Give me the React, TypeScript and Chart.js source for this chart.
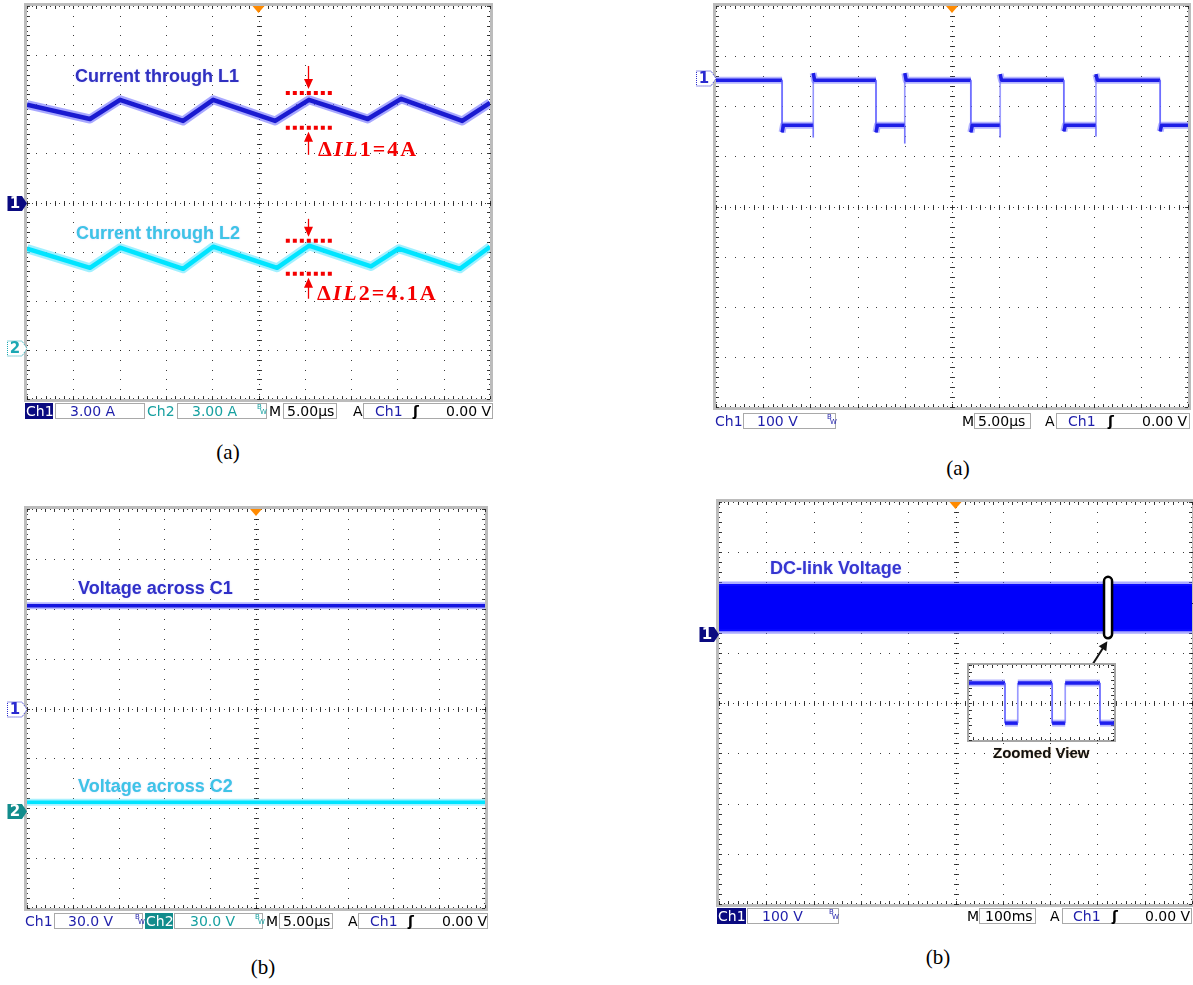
import React, { useEffect, useRef } from 'react';
import { Chart, registerables } from 'chart.js';

Chart.register(...registerables);

// Every trace value is in screen divisions: x 0..10, y -4..+4 (centre = 0).

// (a) left: inductor currents, 3.00 A/div, 5.00 µs/div
const iL1X = [0, 1.36, 2.01, 3.37, 4.02, 5.36, 6.09, 7.36, 8.08, 9.40, 10];
const iL1Y = [1.99, 1.70, 2.09, 1.66, 2.09, 1.66, 2.09, 1.70, 2.11, 1.66, 2.03];
const iL2X = [0, 1.36, 2.01, 3.37, 4.02, 5.40, 6.09, 7.43, 8.03, 9.35, 10];
const iL2Y = [-0.94, -1.33, -0.92, -1.35, -0.90, -1.33, -0.88, -1.30, -0.94, -1.35, -0.90];
const groundsCurrent = [0, -2.97];
const rippleSpanX = [5.59, 6.61];
const rippleArrowX = 6.07;
const rippleL1 = [2.23, 1.52];
const rippleL2 = [-0.78, -1.45];

// (a) right: switch voltage, 100 V/div, 5.00 µs/div
const vSwX = [0, 1.40, 1.40, 1.43, 2.06, 2.06, 2.06, 2.09, 3.39, 3.39, 3.42, 4.00, 4.00, 4.00, 4.03,
  5.40, 5.40, 5.43, 6.02, 6.02, 6.02, 6.05, 7.37, 7.37, 7.40, 8.05, 8.05, 8.05, 8.08, 9.41, 9.41, 9.44, 10];
const vSwY = [2.52, 2.52, 1.48, 1.62, 1.62, 1.38, 2.66, 2.52, 2.52, 1.48, 1.62, 1.62, 1.26, 2.66, 2.52,
  2.52, 1.48, 1.62, 1.62, 1.38, 2.64, 2.52, 2.52, 1.50, 1.62, 1.62, 1.40, 2.64, 2.52, 2.52, 1.50, 1.62, 1.62];
const groundSw = 2.56;

// (b) left: capacitor voltages, 30.0 V/div
const vC1X = [0, 10];
const vC1Y = [2.06, 2.06];
const vC2X = [0, 10];
const vC2Y = [-1.88, -1.88];
const groundsCap = [0, -2.06];

// (b) right: DC-link voltage envelope, 100 V/div, 100 ms/div
const vDcX = [0, 10];
const vDcMax = [2.35, 2.35];
const vDcMin = [1.45, 1.45];
const groundDc = 1.37;
const zoomWinX = [8.14, 8.31];
const zoomWinY = [1.29, 2.51];
const zoomArrowX = [7.89, 8.21];
const zoomArrowY = [0.756, 1.23];

// zoomed-view inset: 3 divisions wide, -1..1 tall
const zvX = [0, 0.745, 0.745, 1.01, 1.01, 1.72, 1.72, 1.99, 1.99, 2.71, 2.71, 3.0];
const zvY = [0.52, 0.52, -0.55, -0.55, 0.52, 0.52, -0.55, -0.55, 0.52, 0.52, -0.55, -0.55];

const C_BLUE = '#1e1eaa';
const C_TEAL = '#17a0a0';
const C_NAVY = '#0a0a80';
const C_TEALBG = '#128c8c';
const INK = 'rgba(25,25,25,0.85)';

type Pt = { x: number; y: number };
const pts = (xs: number[], ys: number[]): Pt[] => xs.map((x, i) => ({ x, y: ys[i] }));

const isVertical = (c: any) => Math.abs(c.p0.parsed.x - c.p1.parsed.x) < 1e-6;

// core stroke on top (order 1), soft halo underneath (order 2)
function trace(xs: number[], ys: number[], core: string, haze: string, w: number, hw: number, thinEdges = false): any[] {
  const data = pts(xs, ys);
  const base = { data, pointRadius: 0, tension: 0, fill: false, borderJoinStyle: 'round', borderCapStyle: 'butt' };
  return [
    { ...base, order: 1, borderColor: core, borderWidth: w,
      segment: thinEdges ? { borderWidth: (c: any) => (isVertical(c) ? 1 : undefined), borderColor: (c: any) => (isVertical(c) ? 'rgba(95,95,255,0.75)' : undefined) } : undefined },
    { ...base, order: 2, borderColor: haze, borderWidth: hw,
      segment: thinEdges ? { borderWidth: (c: any) => (isVertical(c) ? 2 : undefined), borderColor: (c: any) => (isVertical(c) ? 'rgba(150,150,255,0.35)' : undefined) } : undefined },
  ];
}

type GridSpec = {
  vLines: number[]; hLines: number[]; vAxis: number | null; hAxis: number | null;
  xStep: number; yStep: number; xOrigin: number; yOrigin: number; frame: string; frameWidth: number;
};

function steps(min: number, max: number, origin: number, step: number): number[] {
  const out: number[] = [];
  const k0 = Math.ceil((min - origin) / step - 1e-6);
  const k1 = Math.floor((max - origin) / step + 1e-6);
  for (let k = k0; k <= k1; k++) out.push(origin + k * step);
  return out;
}

function drawGrid(chart: any, g: GridSpec) {
  const ctx: CanvasRenderingContext2D = chart.ctx;
  const sx = chart.scales.x, sy = chart.scales.y;
  const px = (v: number) => Math.round(sx.getPixelForValue(v));
  const py = (v: number) => Math.round(sy.getPixelForValue(v));
  const L = px(sx.min), R = px(sx.max), T = py(sy.max), B = py(sy.min);
  ctx.save();
  ctx.fillStyle = '#ffffff';
  ctx.fillRect(L, T, R - L, B - T);
  const fw = g.frameWidth;
  ctx.strokeStyle = g.frame;
  ctx.lineWidth = fw;
  ctx.strokeRect(L - fw / 2, T - fw / 2, R - L + fw, B - T + fw);
  const xa = steps(sx.min, sx.max, g.xOrigin, g.xStep);
  const ya = steps(sy.min, sy.max, g.yOrigin, g.yStep);
  const xf = steps(sx.min, sx.max, g.xOrigin, g.xStep / 2);
  const yf = steps(sy.min, sy.max, g.yOrigin, g.yStep / 2);
  ctx.fillStyle = INK;
  g.vLines.forEach((v) => { const x = px(v); ya.forEach((w) => ctx.fillRect(x, py(w), 1, 1)); });
  g.hLines.forEach((v) => { const y = py(v); xa.forEach((w) => ctx.fillRect(px(w), y, 1, 1)); });
  // frame edge ticks
  xa.forEach((w) => { const x = px(w); ctx.fillRect(x, T, 1, 3); ctx.fillRect(x, B - 3, 1, 3); });
  ya.forEach((w) => { const y = py(w); ctx.fillRect(L, y, 3, 1); ctx.fillRect(R - 3, y, 3, 1); });
  xf.forEach((w) => { const x = px(w); ctx.fillRect(x, T, 1, 1); ctx.fillRect(x, B - 1, 1, 1); });
  yf.forEach((w) => { const y = py(w); ctx.fillRect(L, y, 1, 1); ctx.fillRect(R - 1, y, 1, 1); });
  // centre axes with minor ticks
  if (g.vAxis !== null) {
    const x = px(g.vAxis);
    yf.forEach((w) => ctx.fillRect(x, py(w), 1, 1));
    ya.forEach((w) => ctx.fillRect(x - 2, py(w), 5, 1));
  }
  if (g.hAxis !== null) {
    const y = py(g.hAxis);
    xf.forEach((w) => ctx.fillRect(px(w), y, 1, 1));
    xa.forEach((w) => ctx.fillRect(px(w), y - 2, 1, 5));
  }
  ctx.restore();
}

type Marker = { n: string; v: number; kind: 'navy' | 'teal' | 'blueHollow' | 'tealHollow' };

function drawMarker(chart: any, m: Marker) {
  const ctx: CanvasRenderingContext2D = chart.ctx;
  const L = Math.round(chart.scales.x.getPixelForValue(chart.scales.x.min));
  const y = Math.round(chart.scales.y.getPixelForValue(m.v)) + 0.5;
  const x0 = L - 19.5, x1 = L - 5, x2 = L, h = 7.5;
  ctx.save();
  ctx.beginPath();
  ctx.moveTo(x0, y - h); ctx.lineTo(x1, y - h); ctx.lineTo(x2, y); ctx.lineTo(x1, y + h); ctx.lineTo(x0, y + h);
  ctx.closePath();
  const filled = m.kind === 'navy' || m.kind === 'teal';
  const col = m.kind === 'navy' ? C_NAVY : m.kind === 'teal' ? C_TEALBG : m.kind === 'blueHollow' ? '#2a2ad0' : '#1aa8b4';
  if (filled) { ctx.fillStyle = col; ctx.fill(); }
  else { ctx.fillStyle = '#fff'; ctx.fill(); ctx.setLineDash([1, 1]); ctx.strokeStyle = col; ctx.lineWidth = 1; ctx.stroke(); }
  ctx.fillStyle = filled ? '#fff' : col;
  ctx.font = 'bold 15px "DejaVu Sans", sans-serif';
  ctx.textAlign = 'center';
  ctx.textBaseline = 'middle';
  ctx.fillText(m.n, x0 + 7.5, y + 1);
  ctx.restore();
}

function drawTrigger(chart: any) {
  const ctx: CanvasRenderingContext2D = chart.ctx;
  const sx = chart.scales.x, sy = chart.scales.y;
  const cx = sx.getPixelForValue((sx.min + sx.max) / 2);
  const T = sy.getPixelForValue(sy.max);
  ctx.save();
  ctx.fillStyle = '#ff8a00';
  ctx.beginPath();
  ctx.moveTo(cx - 6, T); ctx.lineTo(cx + 6, T); ctx.lineTo(cx, T + 7); ctx.closePath();
  ctx.fill();
  ctx.restore();
}

function arrow(ctx: CanvasRenderingContext2D, x1: number, y1: number, x2: number, y2: number, color: string, lw: number, head: number, hw: number) {
  const a = Math.atan2(y2 - y1, x2 - x1);
  ctx.save();
  ctx.strokeStyle = color; ctx.fillStyle = color; ctx.lineWidth = lw;
  ctx.beginPath();
  ctx.moveTo(x1, y1);
  ctx.lineTo(x2 - Math.cos(a) * head * 0.8, y2 - Math.sin(a) * head * 0.8);
  ctx.stroke();
  ctx.beginPath();
  ctx.moveTo(x2, y2);
  ctx.lineTo(x2 - Math.cos(a) * head + Math.sin(a) * hw, y2 - Math.sin(a) * head - Math.cos(a) * hw);
  ctx.lineTo(x2 - Math.cos(a) * head - Math.sin(a) * hw, y2 - Math.sin(a) * head + Math.cos(a) * hw);
  ctx.closePath();
  ctx.fill();
  ctx.restore();
}

function drawRipple(chart: any, levels: number[], upLen: number, downLen: number) {
  const ctx: CanvasRenderingContext2D = chart.ctx;
  const sx = chart.scales.x, sy = chart.scales.y;
  const xa = sx.getPixelForValue(rippleSpanX[0]), xb = sx.getPixelForValue(rippleSpanX[1]);
  const ax = Math.round(sx.getPixelForValue(rippleArrowX)) + 0.5;
  const yTop = sy.getPixelForValue(levels[0]), yBot = sy.getPixelForValue(levels[1]);
  ctx.save();
  ctx.strokeStyle = '#f40000';
  ctx.lineWidth = 4;
  ctx.setLineDash([4, 3]);
  [yTop, yBot].forEach((y) => { ctx.beginPath(); ctx.moveTo(xa, y); ctx.lineTo(xb, y); ctx.stroke(); });
  ctx.restore();
  arrow(ctx, ax, yTop - downLen, ax, yTop - 4, '#f40000', 1.3, 10, 4.5);
  arrow(ctx, ax, yBot + upLen, ax, yBot + 4, '#f40000', 1.3, 10, 4.5);
}

function drawZoomWindow(chart: any) {
  const ctx: CanvasRenderingContext2D = chart.ctx;
  const sx = chart.scales.x, sy = chart.scales.y;
  const x0 = sx.getPixelForValue(zoomWinX[0]), x1 = sx.getPixelForValue(zoomWinX[1]);
  const y0 = sy.getPixelForValue(zoomWinY[1]), y1 = sy.getPixelForValue(zoomWinY[0]);
  const r = (x1 - x0) / 2;
  ctx.save();
  ctx.beginPath();
  ctx.moveTo(x0, y0 + r);
  ctx.arc(x0 + r, y0 + r, r, Math.PI, 0);
  ctx.lineTo(x1, y1 - r);
  ctx.arc(x0 + r, y1 - r, r, 0, Math.PI);
  ctx.closePath();
  ctx.fillStyle = '#fff';
  ctx.fill();
  ctx.strokeStyle = '#000';
  ctx.lineWidth = 2.5;
  ctx.stroke();
  ctx.restore();
  arrow(ctx, sx.getPixelForValue(zoomArrowX[0]), sy.getPixelForValue(zoomArrowY[0]),
    sx.getPixelForValue(zoomArrowX[1]), sy.getPixelForValue(zoomArrowY[1]), '#111', 2, 9, 4.5);
}

type Box = { l: number; t: number; r: number; b: number };
type ScopeProps = {
  box: Box; pad: { l: number; t: number; r: number; b: number };
  datasets: any[]; grid: GridSpec; markers: Marker[]; trigger: boolean;
  xRange: [number, number]; yRange: [number, number]; extra?: (c: any) => void;
};

function Scope({ box, pad, datasets, grid, markers, trigger, xRange, yRange, extra }: ScopeProps) {
  const ref = useRef<HTMLCanvasElement>(null);
  useEffect(() => {
    const canvas = ref.current;
    if (!canvas) return;
    const chart = new Chart(canvas, {
      type: 'line',
      data: { datasets },
      options: {
        responsive: false,
        animation: false,
        events: [],
        layout: { padding: { left: pad.l, top: pad.t, right: pad.r, bottom: pad.b } },
        plugins: { legend: { display: false }, tooltip: { enabled: false } },
        scales: {
          x: { type: 'linear', min: xRange[0], max: xRange[1], display: false },
          y: { type: 'linear', min: yRange[0], max: yRange[1], display: false },
        },
      },
      plugins: [
        { id: 'graticule', beforeDatasetsDraw: (c: any) => drawGrid(c, grid) },
        {
          id: 'scopeOverlay',
          afterDatasetsDraw: (c: any) => {
            if (extra) extra(c);
            markers.forEach((m) => drawMarker(c, m));
            if (trigger) drawTrigger(c);
          },
        },
      ],
    } as any);
    return () => chart.destroy();
  }, []);
  const w = box.r - box.l + pad.l + pad.r;
  const h = box.b - box.t + pad.t + pad.b;
  return (
    <canvas ref={ref} width={w} height={h}
      style={{ position: 'absolute', left: box.l - pad.l, top: box.t - pad.t, width: w, height: h }} />
  );
}

const mainGrid: GridSpec = {
  vLines: [1, 2, 3, 4, 6, 7, 8, 9], hLines: [-3, -2, -1, 1, 2, 3], vAxis: 5, hAxis: 0,
  xStep: 0.2, yStep: 0.2, xOrigin: 0, yOrigin: 0, frame: '#bcbcbc', frameWidth: 3,
};
const insetGrid: GridSpec = {
  vLines: [0.68, 1.68, 2.65], hLines: [], vAxis: null, hAxis: 0,
  xStep: 0.2, yStep: 0.2, xOrigin: 0.68, yOrigin: 0, frame: '#a6a6a6', frameWidth: 2,
};
const PAD = { l: 22, t: 8, r: 6, b: 8 };

type Bar = { y: number; hls: [number, number, string][]; boxes: [number, number][]; texts: [number, string, string][]; bw: [number, string][] };

const barA1: Bar = {
  y: 403, hls: [[25, 28, C_NAVY]], boxes: [[55, 90], [177, 90], [283, 54], [363, 130]],
  texts: [[26, 'Ch1', '#fff'], [70, '3.00 A', C_BLUE], [147, 'Ch2', C_TEAL], [192, '3.00 A', C_TEAL], [269, 'M', '#000'],
    [287, '5.00µs', '#000'], [353, 'A', '#000'], [375, 'Ch1', C_BLUE], [413, 'ʃ', '#000'], [446, '0.00 V', '#000']],
  bw: [[257, C_TEAL]],
};
const barA2: Bar = {
  y: 413, hls: [], boxes: [[743, 93], [974, 57], [1056, 134]],
  texts: [[715, 'Ch1', C_BLUE], [757, '100 V', C_BLUE], [962, 'M', '#000'], [978, '5.00µs', '#000'], [1045, 'A', '#000'],
    [1068, 'Ch1', C_BLUE], [1108, 'ʃ', '#000'], [1142, '0.00 V', '#000']],
  bw: [[827, C_BLUE]],
};
const barB1: Bar = {
  y: 913, hls: [[145, 28, C_TEALBG]], boxes: [[54, 89], [174, 89], [279, 54], [358, 130]],
  texts: [[25, 'Ch1', C_BLUE], [68, '30.0 V', C_BLUE], [146, 'Ch2', '#fff'], [190, '30.0 V', C_TEAL], [266, 'M', '#000'],
    [283, '5.00µs', '#000'], [348, 'A', '#000'], [370, 'Ch1', C_BLUE], [408, 'ʃ', '#000'], [442, '0.00 V', '#000']],
  bw: [[135, C_BLUE], [255, C_TEAL]],
};
const barB2: Bar = {
  y: 908, hls: [[717, 29, C_NAVY]], boxes: [[747, 92], [979, 57], [1062, 130]],
  texts: [[718, 'Ch1', '#fff'], [762, '100 V', C_BLUE], [967, 'M', '#000'], [985, '100ms', '#000'], [1050, 'A', '#000'],
    [1073, 'Ch1', C_BLUE], [1112, 'ʃ', '#000'], [1145, '0.00 V', '#000']],
  bw: [[829, C_BLUE]],
};

const abs = (x: number, y: number): React.CSSProperties => ({ position: 'absolute', left: x, top: y, whiteSpace: 'nowrap' });

function StatusBar({ bar }: { bar: Bar }) {
  return (
    <>
      {bar.hls.map(([x, w, bg], i) => (
        <div key={'h' + i} style={{ ...abs(x, bar.y), width: w, height: 16, background: bg }} />
      ))}
      {bar.boxes.map(([x, w], i) => (
        <div key={'b' + i} style={{ ...abs(x, bar.y), width: w, height: 16, boxSizing: 'border-box', border: '1px solid #a9a9a9', background: '#fff' }} />
      ))}
      {bar.texts.map(([x, t, c], i) => (
        <div key={'t' + i} style={{ ...abs(x, bar.y), height: 16, fontFamily: '"DejaVu Sans", Verdana, sans-serif', fontSize: 14, lineHeight: '16px', color: c, fontWeight: t === 'ʃ' ? 'bold' : 'normal' }}>{t}</div>
      ))}
      {bar.bw.map(([x, c], i) => (
        <React.Fragment key={'w' + i}>
          <div style={{ ...abs(x, bar.y + 1), fontFamily: '"DejaVu Sans", sans-serif', fontSize: 7, lineHeight: '7px', color: c }}>B</div>
          <div style={{ ...abs(x + 3, bar.y + 6), fontFamily: '"DejaVu Sans", sans-serif', fontSize: 7, lineHeight: '7px', color: c }}>W</div>
        </React.Fragment>
      ))}
    </>
  );
}

function Label({ x, y, text, color, size = 18 }: { x: number; y: number; text: string; color: string; size?: number }) {
  return (
    <div style={{ ...abs(x, y), fontFamily: '"Liberation Sans", Arial, sans-serif', fontWeight: 'bold', fontSize: size, lineHeight: `${size}px`, color, textShadow: '0 0 1.5px rgba(120,120,255,0.35)' }}>{text}</div>
  );
}

function Caption({ cx, y, text }: { cx: number; y: number; text: string }) {
  return (
    <div style={{ ...abs(cx - 30, y), width: 60, textAlign: 'center', fontFamily: '"Liberation Serif", "Times New Roman", serif', fontSize: 21, lineHeight: '21px', color: '#000' }}>{text}</div>
  );
}

function Ripple({ x, y, idx, val }: { x: number; y: number; idx: string; val: string }) {
  return (
    <div style={{ ...abs(x, y), fontFamily: '"Liberation Serif", "Times New Roman", serif', fontWeight: 'bold', fontSize: 22, lineHeight: '22px', color: '#f40000', letterSpacing: 2 }}>
      Δ<i>IL</i>{idx}={val}
    </div>
  );
}

export default function App() {
  const dsCurrent = [
    ...trace(iL1X, iL1Y, '#1a1ad0', 'rgba(110,110,255,0.6)', 4.5, 9),
    ...trace(iL2X, iL2Y, '#00e4ff', 'rgba(110,232,255,0.65)', 4.5, 9),
  ];
  const dsSwitch = trace(vSwX, vSwY, '#1e1ee6', 'rgba(110,110,255,0.5)', 3.5, 7, true);
  const dsCap = [
    ...trace(vC1X, vC1Y, '#1414e0', 'rgba(110,110,255,0.5)', 3.5, 7),
    ...trace(vC2X, vC2Y, '#00e4ff', 'rgba(110,232,255,0.6)', 3.5, 7),
  ];
  const dsDc = [
    { data: pts(vDcX, vDcMax), order: 1, borderColor: '#0a0aff', borderWidth: 2, pointRadius: 0, fill: false },
    { data: pts(vDcX, vDcMin), order: 1, borderColor: '#0a0aff', borderWidth: 2, pointRadius: 0, fill: '-1', backgroundColor: '#0000fa' },
    { data: pts(vDcX, vDcMax), order: 2, borderColor: 'rgba(90,90,255,0.5)', borderWidth: 7, pointRadius: 0, fill: false },
    { data: pts(vDcX, vDcMin), order: 2, borderColor: 'rgba(90,90,255,0.5)', borderWidth: 7, pointRadius: 0, fill: false },
  ];
  const dsZoom = trace(zvX, zvY, '#1e1eee', 'rgba(110,110,255,0.5)', 3.5, 7, true);

  return (
    <div style={{ position: 'absolute', left: 0, top: 0, width: 1193, height: 985, overflow: 'hidden', background: '#fff' }}>
      <Scope box={{ l: 27, t: 6, r: 490, b: 399 }} pad={PAD} datasets={dsCurrent} grid={mainGrid} trigger
        xRange={[0, 10]} yRange={[-4, 4]}
        markers={[{ n: '1', v: groundsCurrent[0], kind: 'navy' }, { n: '2', v: groundsCurrent[1], kind: 'tealHollow' }]}
        extra={(c) => { drawRipple(c, rippleL1, 27, 27); drawRipple(c, rippleL2, 25, 22); }} />
      <Scope box={{ l: 716, t: 6, r: 1188, b: 407 }} pad={PAD} datasets={dsSwitch} grid={mainGrid} trigger
        xRange={[0, 10]} yRange={[-4, 4]}
        markers={[{ n: '1', v: groundSw, kind: 'blueHollow' }]} />
      <Scope box={{ l: 27, t: 509, r: 485, b: 908 }} pad={PAD} datasets={dsCap} grid={mainGrid} trigger
        xRange={[0, 10]} yRange={[-4, 4]}
        markers={[{ n: '1', v: groundsCap[0], kind: 'blueHollow' }, { n: '2', v: groundsCap[1], kind: 'teal' }]} />
      <Scope box={{ l: 719, t: 502, r: 1192, b: 904 }} pad={PAD} datasets={dsDc} grid={mainGrid} trigger
        xRange={[0, 10]} yRange={[-4, 4]}
        markers={[{ n: '1', v: groundDc, kind: 'navy' }]} extra={drawZoomWindow} />
      <Scope box={{ l: 969, t: 665, r: 1114, b: 740 }} pad={{ l: 3, t: 3, r: 3, b: 3 }} datasets={dsZoom} grid={insetGrid}
        trigger={false} xRange={[0, 3]} yRange={[-1, 1]} markers={[]} />

      <Label x={75} y={67} text="Current through L1" color="#3030c0" />
      <Label x={76} y={224} text="Current through L2" color="#3ec4e6" />
      <Label x={78} y={579} text="Voltage across C1" color="#3030c8" />
      <Label x={78} y={777} text="Voltage across C2" color="#3ec4e6" />
      <Label x={770} y={559} text="DC-link Voltage" color="#3636d0" />
      <div style={{ ...abs(993, 745), fontFamily: '"Liberation Sans", Arial, sans-serif', fontWeight: 'bold', fontSize: 15, lineHeight: '15px', color: '#111', textShadow: '0 0 1px rgba(200,140,60,0.6)' }}>Zoomed View</div>

      <Ripple x={318} y={138} idx="1" val="4A" />
      <Ripple x={317} y={282} idx="2" val="4.1A" />

      <StatusBar bar={barA1} />
      <StatusBar bar={barA2} />
      <StatusBar bar={barB1} />
      <StatusBar bar={barB2} />

      <Caption cx={228} y={442} text="(a)" />
      <Caption cx={958} y={458} text="(a)" />
      <Caption cx={263} y={957} text="(b)" />
      <Caption cx={938} y={947} text="(b)" />
    </div>
  );
}
